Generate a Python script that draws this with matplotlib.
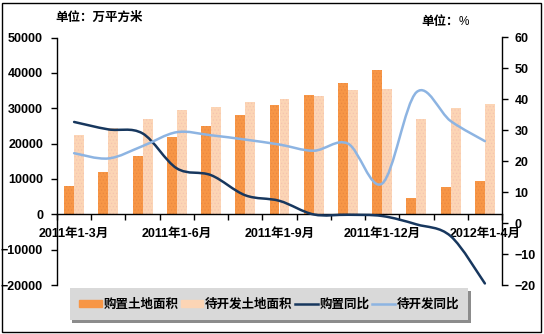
import numpy as np
import matplotlib
matplotlib.use('Agg')
import matplotlib.pyplot as plt
from matplotlib.path import Path
from matplotlib.patches import PathPatch, Patch, Rectangle
from matplotlib.lines import Line2D

periods = ['2011年1-3月', '2011年1-4月', '2011年1-5月', '2011年1-6月', '2011年1-7月',
           '2011年1-8月', '2011年1-9月', '2011年1-10月', '2011年1-11月', '2011年1-12月',
           '2012年1-2月', '2012年1-3月', '2012年1-4月']
# 万平方米
purchase_area = [8100, 11900, 16400, 21800, 24900, 28000, 30900, 33700, 37100, 40800, 4700, 7800, 9400]
pending_area = [22400, 24400, 26900, 29500, 30300, 31800, 32600, 33400, 35100, 35400, 26900, 30000, 31200]
# %
purchase_yoy = [32.7, 30.3, 29.0, 17.7, 15.5, 9.0, 7.2, 2.8, 2.7, 2.3, -0.4, -4.2, -19.5]
pending_yoy = [22.6, 20.9, 24.9, 29.4, 28.4, 27.0, 25.4, 23.4, 25.7, 12.8, 42.3, 33.0, 26.5]

shown_ticks = [0, 3, 6, 9, 12]

C_BUY = '#F79646'
C_PEND = '#FCD5B5'
C_BUY_LINE = '#17375E'
C_PEND_LINE = '#8DB4E2'

NUM_FONT = ['Liberation Sans', 'Noto Sans CJK SC']
CJK_FONT = ['Noto Sans CJK SC', 'Liberation Sans']
plt.rcParams['font.family'] = NUM_FONT
plt.rcParams['font.weight'] = 'bold'
plt.rcParams['hatch.linewidth'] = 0.5


def smooth_path(xs, ys):
    # catmull-rom style bezier through every point
    pts = np.column_stack([xs, ys]).astype(float)
    n = len(pts)
    verts = [tuple(pts[0])]
    codes = [Path.MOVETO]
    for i in range(n - 1):
        p0 = pts[max(i - 1, 0)]
        p1 = pts[i]
        p2 = pts[i + 1]
        p3 = pts[min(i + 2, n - 1)]
        c1 = p1 + (p2 - p0) / 6.0
        c2 = p2 - (p3 - p1) / 6.0
        verts += [tuple(c1), tuple(c2), tuple(p2)]
        codes += [Path.CURVE4] * 3
    return Path(verts, codes)


fig = plt.figure(figsize=(5.44, 3.34), dpi=100)
ax = fig.add_axes([57 / 544, 1 - 285 / 334, 445 / 544, (285 - 37.5) / 334])
ax2 = ax.twinx()

x = np.arange(len(periods))
w = 0.29
ax.bar(x - w / 2, purchase_area, w, color=C_BUY, edgecolor='#EB8840', lw=0, hatch='.....')
ax.bar(x + w / 2, pending_area, w, color=C_PEND, edgecolor='#F5C3B0', lw=0, hatch='.....')

ax2.add_patch(PathPatch(smooth_path(x, purchase_yoy), fill=False, ec=C_BUY_LINE, lw=1.8,
                        capstyle='round', joinstyle='round'))
ax2.add_patch(PathPatch(smooth_path(x, pending_yoy), fill=False, ec=C_PEND_LINE, lw=1.8,
                        capstyle='round', joinstyle='round'))

ax.set_xlim(-0.5, len(periods) - 0.5)
ax.set_ylim(-20000, 50000)
ax.set_yticks(np.arange(-20000, 50001, 10000))
ax2.set_ylim(-20, 60)
ax2.set_yticks(np.arange(-20, 61, 10))

for s in ['top', 'right']:
    ax.spines[s].set_visible(False)
ax.spines['bottom'].set_position(('data', 0))
for s in ['top', 'left', 'bottom']:
    ax2.spines[s].set_visible(False)
for sp in list(ax.spines.values()) + list(ax2.spines.values()):
    sp.set_linewidth(1.0)

ax.set_xticks(x[shown_ticks])
ax.set_xticklabels([periods[i] for i in shown_ticks], fontsize=9, fontweight='bold')
ax.set_xticks(np.arange(-0.5, len(periods), 1), minor=True)
ax.tick_params(axis='x', which='major', length=0, pad=10)
ax.tick_params(axis='x', which='minor', length=4, direction='out', width=1)
ax.tick_params(axis='y', length=4, direction='out', width=1, pad=6, labelsize=9)
ax2.tick_params(axis='y', length=4, direction='out', width=1, pad=5, labelsize=9)
for lab in ax.get_yticklabels() + ax2.get_yticklabels():
    lab.set_fontweight('bold')

fig.text(55 / 544, 1 - 17 / 334, '单位：万平方米', family=CJK_FONT, fontsize=9,
         fontweight='bold', va='center', ha='left')
fig.text(421 / 544, 1 - 22 / 334, '单位：', family=CJK_FONT, fontsize=9,
         fontweight='bold', va='center', ha='left')
fig.text(459 / 544, 1 - 22 / 334, '%', family=['Liberation Sans'], fontsize=8.5,
         fontweight='normal', va='center', ha='left')

handles = [Patch(color=C_BUY), Patch(color=C_PEND),
           Line2D([], [], color=C_BUY_LINE, lw=1.8), Line2D([], [], color=C_PEND_LINE, lw=1.8)]
labels = ['购置土地面积', '待开发土地面积', '购置同比', '待开发同比']
leg = fig.legend(handles, labels, loc='center', bbox_to_anchor=(269 / 544, 1 - 304 / 334),
                 ncol=4, frameon=True, fancybox=False, shadow={'color': '#6f6f6f', 'alpha': 0.8},
                 handlelength=1.8, handleheight=0.5, handletextpad=0.15, columnspacing=0.2,
                 borderpad=0.75, prop={'family': CJK_FONT, 'size': 9, 'weight': 'bold'})
leg.get_frame().set_facecolor('#D9D9D9')
leg.get_frame().set_edgecolor('#D9D9D9')
leg.get_frame().set_linewidth(0)

fig.add_artist(Rectangle((2 / 544, 2 / 334), 539 / 544, 329 / 334, transform=fig.transFigure,
                         fill=False, ec='black', lw=1.0))

fig.savefig('out.png', dpi=100)
